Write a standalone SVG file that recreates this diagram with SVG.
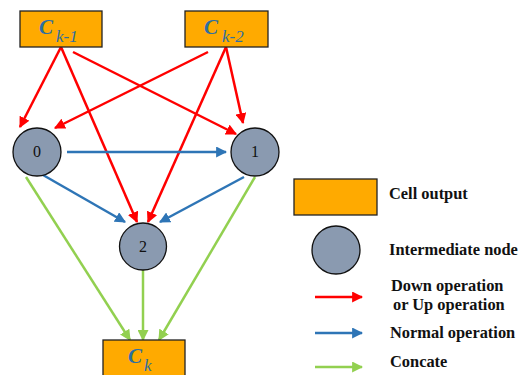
<svg xmlns="http://www.w3.org/2000/svg" width="524" height="375" viewBox="0 0 524 375">
<style>
.box{fill:#FFAA00;stroke:#222;stroke-width:1.3}
.nd{fill:#8A9AB0;stroke:#111;stroke-width:1.3}
.cl{font-weight:bold;font-style:italic;font-size:21px;fill:#2F6FA0}
.sub{font-style:italic;font-size:17px;fill:#2F6FA0}
.num{font-size:16px;fill:#111;text-anchor:middle}
.lg{font-weight:bold;font-size:16.4px;fill:#111}
.r{stroke:#FF0000;stroke-width:2.5;fill:none;marker-end:url(#ar)}
.b{stroke:#2E75B6;stroke-width:2.5;fill:none;marker-end:url(#ab)}
.g{stroke:#92D050;stroke-width:2.5;fill:none;marker-end:url(#ag)}
</style>
<defs>
<marker id="ar" viewBox="0 0 10 10" refX="9" refY="5" markerWidth="11" markerHeight="11" markerUnits="userSpaceOnUse" orient="auto"><path d="M0,0 L10,5 L0,10 z" fill="#FF0000"/></marker>
<marker id="ab" viewBox="0 0 10 10" refX="9" refY="5" markerWidth="11" markerHeight="11" markerUnits="userSpaceOnUse" orient="auto"><path d="M0,0 L10,5 L0,10 z" fill="#2E75B6"/></marker>
<marker id="ag" viewBox="0 0 10 10" refX="9" refY="5" markerWidth="11" markerHeight="11" markerUnits="userSpaceOnUse" orient="auto"><path d="M0,0 L10,5 L0,10 z" fill="#92D050"/></marker>
</defs>
<rect width="524" height="375" fill="#fff"/>
<g id="connectors">
<line class="r" x1="61" y1="47" x2="20" y2="127"/>
<line class="r" x1="61" y1="47" x2="137" y2="222"/>
<line class="r" x1="73" y1="52" x2="236" y2="134"/>
<line class="r" x1="208" y1="52" x2="55" y2="128"/>
<line class="r" x1="226" y1="47" x2="243" y2="123"/>
<line class="r" x1="226" y1="47" x2="148" y2="222"/>
<line class="b" x1="67" y1="152" x2="226" y2="152"/>
<line class="b" x1="43" y1="175" x2="125" y2="222"/>
<line class="b" x1="244" y1="177" x2="160" y2="222"/>
<line class="g" x1="26" y1="177" x2="130" y2="340"/>
<line class="g" x1="143" y1="270" x2="143" y2="340"/>
<line class="g" x1="255" y1="177" x2="159" y2="340"/>
</g>
<g id="ck1"><rect class="box" x="20" y="11" width="82" height="36"/><text class="cl" font-family="Liberation Serif, serif" x="39" y="34">C</text><text class="sub" font-family="Liberation Serif, serif" x="56" y="42">k-1</text></g>
<g id="ck2"><rect class="box" x="185" y="11" width="83" height="36"/><text class="cl" font-family="Liberation Serif, serif" x="204" y="34">C</text><text class="sub" font-family="Liberation Serif, serif" x="222" y="42">k-2</text></g>
<g id="ck"><rect class="box" x="103" y="340" width="82" height="42"/><text class="cl" font-family="Liberation Serif, serif" x="128" y="363">C</text><text class="sub" font-family="Liberation Serif, serif" x="144" y="371">k</text></g>
<g id="n0"><circle class="nd" cx="37" cy="152" r="24"/><text class="num" font-family="Liberation Serif, serif" x="37" y="157">0</text></g>
<g id="n1"><circle class="nd" cx="255" cy="152" r="24"/><text class="num" font-family="Liberation Serif, serif" x="255" y="157">1</text></g>
<g id="n2"><circle class="nd" cx="143" cy="246.5" r="23.5"/><text class="num" font-family="Liberation Serif, serif" x="143" y="252">2</text></g>
<g id="legend">
<rect class="box" x="294" y="179" width="83" height="36"/>
<text class="lg" font-family="Liberation Serif, serif" x="389" y="199">Cell output</text>
<circle class="nd" cx="336" cy="250" r="24"/>
<text class="lg" font-family="Liberation Serif, serif" x="389" y="255">Intermediate node</text>
<line class="r" x1="315" y1="297" x2="362" y2="297"/>
<text class="lg" font-family="Liberation Serif, serif" x="391" y="291">Down operation</text>
<text class="lg" font-family="Liberation Serif, serif" x="393" y="310">or Up operation</text>
<line class="b" x1="315" y1="333" x2="362" y2="333"/>
<text class="lg" font-family="Liberation Serif, serif" x="390" y="338">Normal operation</text>
<line class="g" x1="315" y1="367" x2="362" y2="367"/>
<text class="lg" font-family="Liberation Serif, serif" x="390" y="367">Concate</text>
</g>
</svg>
